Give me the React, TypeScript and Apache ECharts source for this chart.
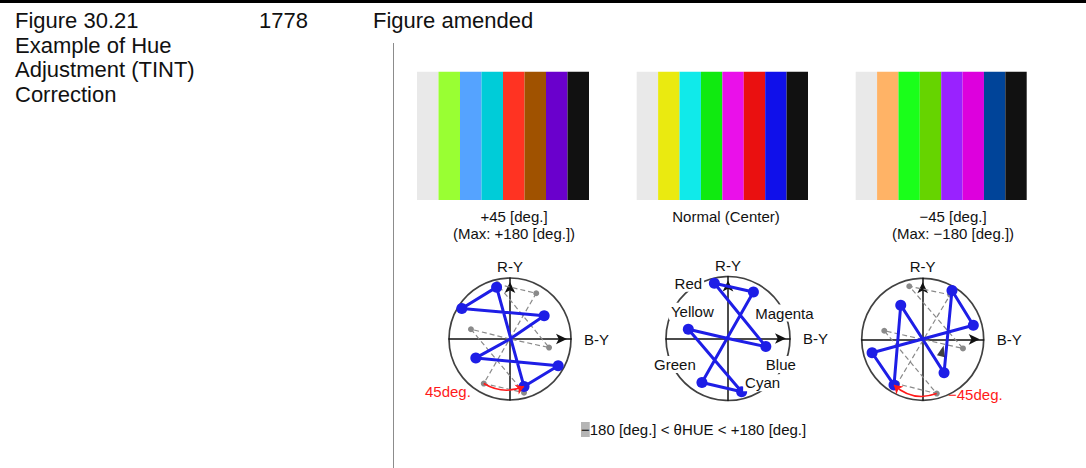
import React, { useEffect, useRef } from "react";
import * as echarts from "echarts";

// ---------- data ----------
const barCategories = ["White", "Yellow", "Cyan", "Green", "Magenta", "Red", "Blue", "Black"];
const barLevels = [1, 1, 1, 1, 1, 1, 1, 1];
const plus45BarColors = ["#e9e9e9", "#99ff33", "#55a3ff", "#00ccd8", "#ff3322", "#a05200", "#6a00cc", "#111111"];
const normalBarColors = ["#e9e9e9", "#eaea10", "#10eaea", "#10ea10", "#ea10ea", "#ea1010", "#1010ea", "#111111"];
const minus45BarColors = ["#e9e9e9", "#ffb366", "#1aff1a", "#66d400", "#9922ff", "#dd00dd", "#004499", "#111111"];

const barCaptions = [
  ["+45 [deg.]", "(Max: +180 [deg.])"],
  ["Normal (Center)"],
  ["\u221245 [deg.]", "(Max: \u2212180 [deg.])"],
];

// vectorscope points, in trace order, radius of circle = 100
const traceOrder = ["Yellow", "Cyan", "Green", "Magenta", "Red", "Blue"];
const normalTrace = [[-64, 15], [22, -86], [-42, -71], [41, 75], [-22, 89], [61, -13]];
const plus45Reference = [[-64, 16], [23, -88], [-43, -73], [43, 75], [-21, 90], [64, -14]];
const plus45Trace = [[-56, -31], [79, -44], [23, -78], [-22, 85], [-79, 50], [56, 38]];
const minus45Reference = [[-63, 14], [23, -89], [-42, -73], [45, 73], [-22, 87], [66, -15]];
const minus45Trace = [[-36, 56], [-47, -75], [-83, -22], [83, 23], [48, 80], [35, -55]];
const minus45Marker = [[32, -19]];

const headerTexts = ["Figure 30.21", "Example of Hue", "Adjustment (TINT)", "Correction"];
const pageNumber = "1778";
const amendNote = "Figure amended";
const rangeNote = "180 [deg.] < \u03b8HUE < +180 [deg.]";
const rotationLabels = ["45deg.", "\u221245deg."];

// ---------- styles / layout ----------
const FONT = '"Liberation Sans", Arial, Helvetica, sans-serif';
const INK = "#111111";
const TRACE_BLUE = "#1e1ee6";
const REF_GRAY = "#8a8a8a";
const ARROW_RED = "#ff1a1a";

const barGrids = [
  { left: 417, top: 71.7, width: 172, height: 128.3 },
  { left: 636.7, top: 71.7, width: 171.3, height: 128.3 },
  { left: 855.7, top: 71.7, width: 171, height: 128.3 },
];
const scopeGrids = [
  { left: 449, top: 278, width: 122, height: 122 },
  { left: 666, top: 276.5, width: 124, height: 124 },
  { left: 861.7, top: 278.3, width: 122, height: 122 },
];
const captionCenters = [514, 726, 953];
const labelOffsets: Record<string, number[]> = {
  Red: [-26, 0],
  Yellow: [4, -18],
  Magenta: [31, 21],
  Green: [-27, -18],
  Blue: [15, 18],
  Cyan: [21, -9],
};

function traceData(points: number[][], withLabels: boolean) {
  const items: any[] = [{ value: [0, 0], symbol: "none" }];
  points.forEach((p, i) => {
    const name = traceOrder[i];
    const item: any = { name, value: p };
    if (withLabels) {
      item.label = {
        show: true,
        position: "inside",
        offset: labelOffsets[name],
        formatter: name,
        fontSize: 15,
        fontFamily: FONT,
        color: INK,
        backgroundColor: "#ffffff",
        padding: [1, 2],
      };
    }
    items.push(item);
  });
  items.push({ value: [0, 0], symbol: "none" });
  return items;
}

function buildOption() {
  const grid: any[] = [];
  const xAxis: any[] = [];
  const yAxis: any[] = [];
  const series: any[] = [];
  const barColorSets = [plus45BarColors, normalBarColors, minus45BarColors];

  barGrids.forEach((g, k) => {
    grid.push({ ...g, outerBoundsMode: "none" });
    xAxis.push({ type: "category", gridIndex: k, data: barCategories, show: false });
    yAxis.push({ type: "value", gridIndex: k, min: 0, max: 1, show: false });
    series.push({
      type: "bar",
      xAxisIndex: k,
      yAxisIndex: k,
      barCategoryGap: "0%",
      silent: true,
      data: barLevels.map((v, i) => ({ value: v, itemStyle: { color: barColorSets[k][i] } })),
    });
  });

  const scopes = [
    { trace: plus45Trace, ref: plus45Reference, arrow: [plus45Reference[2], plus45Trace[2]], curve: -0.25, labels: false },
    { trace: normalTrace, ref: null, arrow: null, curve: 0, labels: true },
    { trace: minus45Trace, ref: minus45Reference, arrow: [minus45Reference[1], minus45Trace[1]], curve: 0.3, labels: false },
  ];

  scopes.forEach((s, j) => {
    const gi = 3 + j;
    const g = scopeGrids[j];
    grid.push({ ...g, outerBoundsMode: "none" });
    const axisLine = {
      show: true,
      onZero: true,
      symbol: ["none", "arrow"],
      symbolSize: [8, 11],
      symbolOffset: [0, -4],
      lineStyle: { color: INK, width: 1.5 },
    };
    xAxis.push({
      type: "value",
      gridIndex: gi,
      min: -100,
      max: 100,
      name: "B-Y",
      nameLocation: "end",
      nameGap: 13,
      nameTextStyle: { fontSize: 15, color: INK, fontFamily: FONT },
      axisLine,
      axisTick: { show: false },
      axisLabel: { show: false },
      splitLine: { show: false },
    });
    yAxis.push({
      type: "value",
      gridIndex: gi,
      min: -100,
      max: 100,
      name: "R-Y",
      nameLocation: "end",
      nameGap: 4,
      nameTextStyle: { fontSize: 15, color: INK, fontFamily: FONT },
      axisLine,
      axisTick: { show: false },
      axisLabel: { show: false },
      splitLine: { show: false },
    });
    // outer circle
    series.push({
      type: "scatter",
      xAxisIndex: gi,
      yAxisIndex: gi,
      silent: true,
      z: 1,
      symbol: "circle",
      symbolSize: g.width,
      itemStyle: { color: "rgba(0,0,0,0)", borderColor: INK, borderWidth: 1.7 },
      data: [[0, 0]],
    });
    if (s.ref) {
      series.push({
        type: "line",
        xAxisIndex: gi,
        yAxisIndex: gi,
        silent: true,
        z: 3,
        symbol: "circle",
        symbolSize: 6,
        itemStyle: { color: REF_GRAY },
        lineStyle: { color: REF_GRAY, width: 1.2, type: [5, 3] },
        data: traceData(s.ref, false),
      });
    }
    series.push({
      type: "line",
      xAxisIndex: gi,
      yAxisIndex: gi,
      silent: true,
      z: 4,
      symbol: "circle",
      symbolSize: 11,
      showAllSymbol: true,
      itemStyle: { color: TRACE_BLUE },
      lineStyle: { color: TRACE_BLUE, width: 3 },
      data: traceData(s.trace, s.labels),
    });
    if (s.arrow) {
      series.push({
        type: "lines",
        coordinateSystem: "cartesian2d",
        xAxisIndex: gi,
        yAxisIndex: gi,
        silent: true,
        z: 5,
        symbol: ["none", "arrow"],
        symbolSize: 8,
        lineStyle: { color: ARROW_RED, width: 1.6, curveness: s.curve, opacity: 1 },
        data: [{ coords: s.arrow }],
      });
    }
    if (j === 2) {
      series.push({
        type: "scatter",
        xAxisIndex: gi,
        yAxisIndex: gi,
        silent: true,
        z: 5,
        symbol: "triangle",
        symbolSize: [8, 11],
        symbolRotate: -15,
        itemStyle: { color: INK },
        data: minus45Marker,
      });
    }
  });

  const graphic: any[] = [
    { type: "rect", shape: { x: 0, y: 0, width: 1086, height: 3 }, style: { fill: "#000" }, silent: true },
    { type: "line", shape: { x1: 393.5, y1: 43, x2: 393.5, y2: 468 }, style: { stroke: "#8c8c8c", lineWidth: 1 }, silent: true },
  ];
  headerTexts.forEach((t, i) => {
    graphic.push({
      type: "text",
      silent: true,
      style: { text: t, x: 15, y: 20.5 + i * 24.5, fontSize: 22, fontFamily: FONT, fill: INK, align: "left", verticalAlign: "middle" },
    });
  });
  graphic.push({
    type: "text",
    silent: true,
    style: { text: pageNumber, x: 259, y: 20.5, fontSize: 22, fontFamily: FONT, fill: INK, align: "left", verticalAlign: "middle" },
  });
  graphic.push({
    type: "text",
    silent: true,
    style: { text: amendNote, x: 373, y: 20.5, fontSize: 22, fontFamily: FONT, fill: INK, align: "left", verticalAlign: "middle" },
  });
  barCaptions.forEach((lines, k) => {
    lines.forEach((t, i) => {
      graphic.push({
        type: "text",
        silent: true,
        style: { text: t, x: captionCenters[k], y: 216 + i * 17.8, fontSize: 15, fontFamily: FONT, fill: INK, align: "center", verticalAlign: "middle" },
      });
    });
  });
  graphic.push({
    type: "text",
    silent: true,
    style: { text: rotationLabels[0], x: 425, y: 391, fontSize: 15, fontFamily: FONT, fill: ARROW_RED, align: "left", verticalAlign: "middle" },
  });
  graphic.push({
    type: "text",
    silent: true,
    style: { text: rotationLabels[1], x: 948, y: 394, fontSize: 15, fontFamily: FONT, fill: ARROW_RED, align: "left", verticalAlign: "middle" },
  });
  graphic.push({
    type: "text",
    silent: true,
    style: {
      text: "{hl|\u2212}" + rangeNote,
      x: 581,
      y: 429.5,
      fontSize: 15,
      fontFamily: FONT,
      fill: INK,
      align: "left",
      verticalAlign: "middle",
      rich: { hl: { backgroundColor: "#b5b5b5", fontSize: 15, fontFamily: FONT, fill: INK } },
    },
  });

  return { animation: false, backgroundColor: "#ffffff", grid, xAxis, yAxis, series, graphic };
}

export default function App() {
  const ref = useRef<HTMLDivElement>(null);
  useEffect(() => {
    const chart = echarts.init(ref.current!, null, { renderer: "svg" });
    chart.setOption(buildOption() as any);
    return () => chart.dispose();
  }, []);
  return (
    <div
      ref={ref}
      style={{ position: "fixed", left: 0, top: 0, width: 1086, height: 468, background: "#fff" }}
    />
  );
}
